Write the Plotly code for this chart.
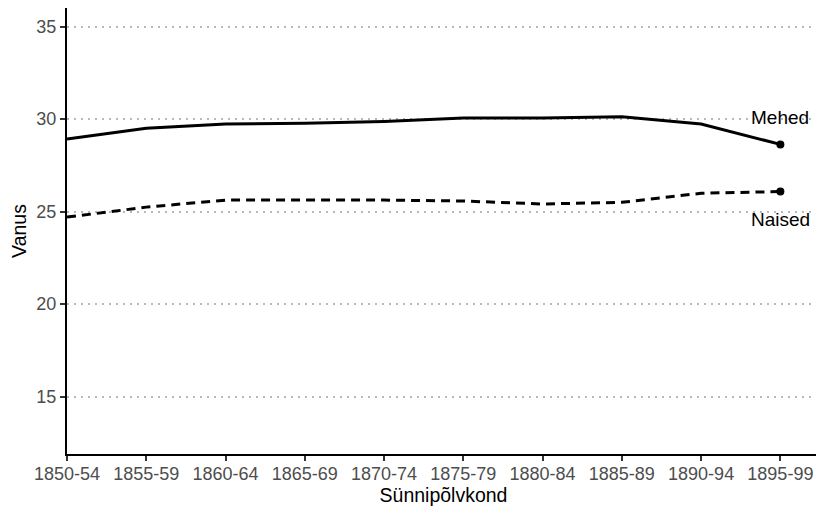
import plotly.graph_objects as go

categories = ["1850-54", "1855-59", "1860-64", "1865-69", "1870-74",
              "1875-79", "1880-84", "1885-89", "1890-94", "1895-99"]
mehed = [28.92, 29.5, 29.73, 29.77, 29.87, 30.05, 30.05, 30.12, 29.73, 28.63]
naised = [24.7, 25.24, 25.62, 25.62, 25.62, 25.57, 25.41, 25.5, 25.99, 26.08]
y_ticks = [15, 20, 25, 30, 35]

fig = go.Figure()
fig.add_trace(go.Scatter(x=categories, y=mehed, mode="lines",
                         line=dict(color="black", width=3), showlegend=False))
fig.add_trace(go.Scatter(x=categories, y=naised, mode="lines",
                         line=dict(color="black", width=3, dash="9px,6px"), showlegend=False))
fig.add_trace(go.Scatter(x=[categories[-1], categories[-1]], y=[mehed[-1], naised[-1]],
                         mode="markers", marker=dict(color="black", size=8), showlegend=False))

fig.add_annotation(x=categories[-1], y=mehed[-1], text="Mehed", showarrow=False,
                   yshift=27, font=dict(size=19, color="black"))
fig.add_annotation(x=categories[-1], y=naised[-1], text="Naised", showarrow=False,
                   yshift=-28, font=dict(size=19, color="black"))

# page body has an 8px margin, so the figure is sized to fit the 824x514 window
fig.update_layout(
    width=816, height=506,
    margin=dict(l=59, r=4, t=0, b=60),
    paper_bgcolor="white", plot_bgcolor="white",
    font=dict(family="Liberation Sans, Arial, sans-serif", color="#4d4d4d"),
    xaxis=dict(type="category", range=[0, 9.5], showgrid=False, automargin=False,
               showline=True, linecolor="black", linewidth=2,
               ticks="outside", ticklen=5, tickcolor="#333", tickwidth=1.5,
               ticklabelstandoff=-3,
               tickfont=dict(size=18, color="#4d4d4d"),
               title=dict(text="Sünnipõlvkond", font=dict(size=19.5, color="black"), standoff=4)),
    yaxis=dict(range=[11.9, 36], tickvals=y_ticks, showgrid=True, automargin=False,
               gridcolor="#b8b8b8", griddash="2px,5px", gridwidth=1.5,
               showline=True, linecolor="black", linewidth=2, zeroline=False,
               ticks="outside", ticklen=5, tickcolor="#333", tickwidth=1.5,
               tickfont=dict(size=18, color="#4d4d4d"),
               title=dict(text="Vanus", font=dict(size=19.5, color="black"), standoff=12)),
)

fig.write_html("out.html")
